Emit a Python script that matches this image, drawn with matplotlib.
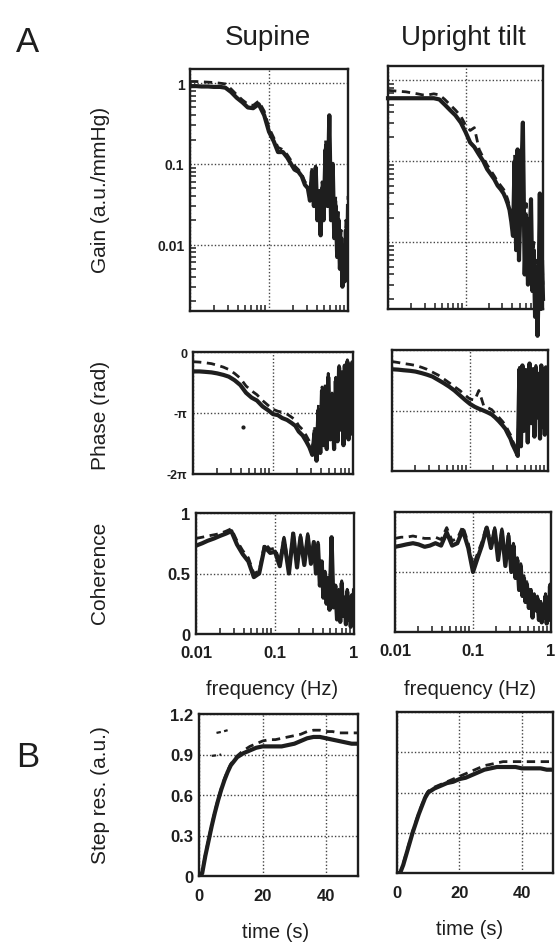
import matplotlib
matplotlib.use("Agg")
import matplotlib.pyplot as plt
import numpy as np
from matplotlib.ticker import LogLocator, NullFormatter, FixedLocator, FixedFormatter

plt.rcParams['font.family'] = ['Liberation Sans', 'DejaVu Sans']

# frequency axis shared by the spectral panels (Hz)
freq = [0.010, 0.012, 0.014, 0.017, 0.020, 0.024, 0.028, 0.033, 0.039, 0.046,
        0.054, 0.063, 0.074, 0.087, 0.10, 0.115, 0.13, 0.15, 0.17, 0.19,
        0.21, 0.235, 0.26, 0.285, 0.31, 0.33, 0.35, 0.37, 0.39, 0.41,
        0.43, 0.45, 0.47, 0.49, 0.52, 0.55, 0.58, 0.61, 0.64, 0.67,
        0.70, 0.73, 0.76, 0.79, 0.82, 0.85, 0.88, 0.91, 0.94, 0.97, 1.0]

# Gain (a.u./mmHg)
gain_sup_solid = [0.92, 0.92, 0.91, 0.91, 0.90, 0.90, 0.88, 0.78, 0.66, 0.58,
                  0.50, 0.49, 0.55, 0.40, 0.25, 0.19, 0.14, 0.14, 0.12, 0.10,
                  0.085, 0.08, 0.07, 0.055, 0.05, 0.035, 0.08, 0.03, 0.09, 0.02,
                  0.04, 0.013, 0.05, 0.02, 0.15, 0.03, 0.40, 0.02, 0.10, 0.012,
                  0.03, 0.007, 0.02, 0.005, 0.012, 0.003, 0.008, 0.0035, 0.015, 0.004, 0.03]
gain_sup_dash = [1.05, 1.05, 1.04, 1.03, 1.02, 1.00, 0.98, 0.85, 0.72, 0.62,
                 0.55, 0.53, 0.60, 0.45, 0.28, 0.21, 0.16, 0.15, 0.13, 0.11,
                 0.095, 0.085, 0.075, 0.06, 0.055, 0.04, 0.09, 0.035, 0.10, 0.025,
                 0.05, 0.015, 0.06, 0.025, 0.20, 0.035, 0.30, 0.025, 0.08, 0.015,
                 0.04, 0.008, 0.025, 0.006, 0.015, 0.004, 0.01, 0.004, 0.02, 0.005, 0.04]
gain_up_solid = [0.60, 0.60, 0.60, 0.60, 0.60, 0.60, 0.60, 0.60, 0.60, 0.58,
                 0.50, 0.43, 0.37, 0.30, 0.23, 0.17, 0.15, 0.12, 0.10, 0.08,
                 0.07, 0.06, 0.05, 0.045, 0.04, 0.035, 0.03, 0.025, 0.018, 0.012,
                 0.10, 0.008, 0.14, 0.006, 0.05, 0.30, 0.004, 0.02, 0.003, 0.01,
                 0.034, 0.0025, 0.008, 0.0012, 0.005, 0.0007, 0.003, 0.04, 0.0015, 0.006, 0.002]
gain_up_dash = [0.75, 0.74, 0.73, 0.72, 0.70, 0.68, 0.66, 0.66, 0.68, 0.66,
                0.58, 0.50, 0.43, 0.36, 0.28, 0.24, 0.26, 0.14, 0.11, 0.09,
                0.078, 0.066, 0.056, 0.05, 0.045, 0.04, 0.034, 0.028, 0.02, 0.014,
                0.12, 0.01, 0.10, 0.007, 0.06, 0.20, 0.005, 0.03, 0.004, 0.012,
                0.025, 0.003, 0.01, 0.002, 0.006, 0.001, 0.004, 0.03, 0.002, 0.008, 0.003]

# Phase (rad)
phase_sup_solid = [-1.0, -1.0, -1.02, -1.05, -1.1, -1.18, -1.27, -1.45, -1.7, -2.1,
                   -2.35, -2.5, -2.8, -3.0, -3.2, -3.25, -3.4, -3.5, -3.65, -3.8,
                   -4.1, -4.3, -4.6, -4.9, -5.3, -4.2, -5.6, -3.0, -5.2, -2.0,
                   -4.8, -1.8, -5.0, -1.3, -4.5, -2.2, -5.0, -1.5, -4.6, -0.8,
                   -4.0, -1.2, -4.8, -0.7, -3.5, -0.5, -4.5, -1.0, -3.8, -0.6, -4.2]
phase_sup_dash = [-0.5, -0.52, -0.55, -0.6, -0.68, -0.78, -0.9, -1.1, -1.35, -1.75,
                  -2.0, -2.2, -2.5, -2.75, -2.95, -3.05, -3.1, -3.2, -3.35, -3.5,
                  -3.8, -4.0, -4.3, -4.6, -5.0, -3.8, -5.3, -2.7, -4.9, -1.8,
                  -4.5, -1.6, -4.7, -1.1, -4.2, -2.0, -4.7, -1.3, -4.3, -0.7,
                  -3.7, -1.0, -4.5, -0.6, -3.2, -0.4, -4.2, -0.9, -3.5, -0.5, -3.9]
phase_up_solid = [-1.0, -1.02, -1.05, -1.08, -1.12, -1.2, -1.28, -1.38, -1.55, -1.72,
                  -1.9, -2.1, -2.35, -2.6, -2.8, -2.95, -3.05, -3.15, -3.25, -3.35,
                  -3.5, -3.7, -3.9, -4.1, -4.4, -4.6, -4.9, -5.1, -5.3, -5.5,
                  -1.0, -5.0, -0.8, -4.2, -1.2, -4.8, -0.7, -3.8, -1.0, -4.5,
                  -0.9, -3.5, -1.3, -4.6, -0.8, -4.0, -1.1, -4.4, -0.9, -3.6, -1.2]
phase_up_dash = [-0.6, -0.65, -0.7, -0.75, -0.8, -0.9, -1.0, -1.15, -1.3, -1.5,
                 -1.7, -1.9, -2.1, -2.35, -2.55, -2.6, -2.1, -2.9, -3.0, -3.1,
                 -3.3, -3.5, -3.7, -3.9, -4.2, -4.4, -4.7, -4.9, -5.1, -5.3,
                 -0.9, -4.7, -0.7, -4.0, -1.0, -4.5, -0.6, -3.6, -0.9, -4.2,
                 -0.8, -3.3, -1.2, -4.3, -0.7, -3.8, -1.0, -4.1, -0.8, -3.4, -1.1]

# Coherence
coh_sup_solid = [0.73, 0.75, 0.77, 0.79, 0.81, 0.83, 0.85, 0.74, 0.66, 0.60,
                 0.47, 0.50, 0.72, 0.67, 0.68, 0.56, 0.78, 0.50, 0.83, 0.55,
                 0.80, 0.57, 0.81, 0.58, 0.76, 0.50, 0.74, 0.40, 0.60, 0.30,
                 0.50, 0.25, 0.45, 0.20, 0.80, 0.22, 0.40, 0.12, 0.35, 0.10,
                 0.42, 0.15, 0.30, 0.08, 0.35, 0.12, 0.28, 0.06, 0.32, 0.10, 0.36]
coh_sup_dash = [0.79, 0.80, 0.81, 0.82, 0.83, 0.85, 0.87, 0.77, 0.69, 0.63,
                0.50, 0.52, 0.75, 0.70, 0.71, 0.60, 0.80, 0.53, 0.85, 0.58,
                0.82, 0.60, 0.83, 0.60, 0.78, 0.52, 0.76, 0.42, 0.62, 0.32,
                0.52, 0.27, 0.47, 0.22, 0.75, 0.24, 0.42, 0.14, 0.37, 0.12,
                0.44, 0.17, 0.32, 0.10, 0.37, 0.14, 0.30, 0.08, 0.34, 0.12, 0.38]
coh_up_solid = [0.71, 0.72, 0.73, 0.74, 0.73, 0.71, 0.72, 0.74, 0.72, 0.83,
                0.72, 0.74, 0.85, 0.70, 0.50, 0.62, 0.72, 0.87, 0.70, 0.85,
                0.60, 0.84, 0.55, 0.80, 0.50, 0.72, 0.45, 0.60, 0.35, 0.55,
                0.30, 0.45, 0.25, 0.40, 0.20, 0.35, 0.12, 0.30, 0.18, 0.28,
                0.10, 0.25, 0.08, 0.22, 0.12, 0.30, 0.07, 0.25, 0.10, 0.38, 0.15]
coh_up_dash = [0.78, 0.79, 0.79, 0.80, 0.79, 0.78, 0.78, 0.79, 0.77, 0.87,
               0.76, 0.78, 0.88, 0.74, 0.55, 0.66, 0.75, 0.89, 0.73, 0.87,
               0.63, 0.86, 0.58, 0.82, 0.52, 0.74, 0.47, 0.62, 0.37, 0.57,
               0.32, 0.47, 0.27, 0.42, 0.22, 0.37, 0.14, 0.32, 0.20, 0.30,
               0.12, 0.27, 0.10, 0.24, 0.14, 0.32, 0.09, 0.27, 0.12, 0.40, 0.17]

# Step response
time_s = [0, 1, 2, 3, 4, 5, 6, 7, 8, 9, 10, 12, 14, 16, 18, 20, 22, 24, 26, 28,
          30, 32, 34, 36, 38, 40, 42, 44, 46, 48, 50]
step_sup_solid = [0, 0.02, 0.15, 0.26, 0.37, 0.47, 0.56, 0.64, 0.71, 0.77, 0.82,
                  0.88, 0.91, 0.93, 0.95, 0.96, 0.96, 0.96, 0.96, 0.97, 0.98,
                  1.0, 1.02, 1.03, 1.03, 1.02, 1.01, 1.0, 0.99, 0.98, 0.98]
step_sup_dash = [0, 0.03, 0.16, 0.27, 0.38, 0.48, 0.57, 0.65, 0.72, 0.78, 0.83,
                 0.89, 0.93, 0.96, 0.98, 1.0, 1.01, 1.01, 1.02, 1.03, 1.04,
                 1.05, 1.07, 1.08, 1.08, 1.07, 1.07, 1.06, 1.06, 1.06, 1.06]
step_up_solid = [0, 0.0, 0.06, 0.14, 0.22, 0.30, 0.37, 0.44, 0.50, 0.56, 0.60,
                 0.63, 0.65, 0.67, 0.68, 0.70, 0.71, 0.73, 0.75, 0.77, 0.78,
                 0.79, 0.79, 0.79, 0.79, 0.78, 0.78, 0.78, 0.78, 0.77, 0.77]
step_up_dash = [0, 0.0, 0.07, 0.15, 0.23, 0.31, 0.38, 0.45, 0.51, 0.57, 0.61,
                0.64, 0.66, 0.68, 0.70, 0.72, 0.74, 0.76, 0.78, 0.80, 0.81,
                0.82, 0.83, 0.83, 0.83, 0.83, 0.83, 0.83, 0.83, 0.83, 0.83]
step_ticks_y = ['0', '0.3', '0.6', '0.9', '1.2']

# stray specks in the supine panels of the original
speck_phase = ([0.042], [-3.86])
speck_step_t = [[5.5, 7.5, 9.0], [4.0, 6.0, 7.0]]
speck_step_y = [[1.06, 1.07, 1.08], [0.89, 0.895, 0.90]]

INK = '#1e1e1e'
W, H = 556, 945


def px_axes(fig, x0, y0, x1, y1):
    return fig.add_axes([x0 / W, 1 - y1 / H, (x1 - x0) / W, (y1 - y0) / H])


def style(ax):
    for s in ax.spines.values():
        s.set_linewidth(1.7)
        s.set_color(INK)
    ax.tick_params(which='major', length=0, labelsize=12, colors=INK, pad=4)
    ax.tick_params(which='minor', direction='in', length=4, width=1.1, color=INK,
                   left=False, right=False, top=False)
    for lab in ax.get_xticklabels() + ax.get_yticklabels():
        lab.set_fontweight('bold')
    ax.grid(True, which='major', linestyle=(0, (1, 1.5)), color='#444444', linewidth=1.0)
    ax.set_axisbelow(True)


def freq_axis(ax, show_labels):
    ax.set_xscale('log')
    ax.set_xlim(0.01, 1)
    ax.xaxis.set_major_locator(FixedLocator([0.01, 0.1, 1]))
    ax.xaxis.set_minor_locator(LogLocator(base=10, subs=np.arange(2, 10), numticks=20))
    ax.xaxis.set_minor_formatter(NullFormatter())
    if show_labels:
        ax.xaxis.set_major_formatter(FixedFormatter(['0.01', '0.1', '1']))
    else:
        ax.xaxis.set_major_formatter(NullFormatter())


def draw(ax, x, solid, dash, clip=True):
    ax.plot(x, solid, color=INK, linewidth=3.0, solid_joinstyle='round', clip_on=clip)
    ax.plot(x, dash, color=INK, linewidth=2.0, linestyle=(0, (3, 2)), clip_on=clip)


fig = plt.figure(figsize=(W / 100, H / 100), dpi=100)

# ---- gain ----
gain_boxes = [(190, 70, 348, 312), (388, 67, 543, 310)]
gain_data = [(gain_sup_solid, gain_sup_dash), (gain_up_solid, gain_up_dash)]
for i, (box, (gs, gd)) in enumerate(zip(gain_boxes, gain_data)):
    ax = px_axes(fig, *box)
    draw(ax, freq, gs, gd, clip=(i == 0))
    freq_axis(ax, False)
    ax.set_yscale('log')
    ax.set_ylim(0.0015, 1.5)
    ax.yaxis.set_major_locator(FixedLocator([0.01, 0.1, 1]))
    ax.yaxis.set_minor_locator(LogLocator(base=10, subs=np.arange(2, 10), numticks=20))
    ax.yaxis.set_minor_formatter(NullFormatter())
    if i == 0:
        ax.yaxis.set_major_formatter(FixedFormatter(['0.01', '0.1', '1']))
    else:
        ax.yaxis.set_major_formatter(NullFormatter())
    style(ax)
    ax.tick_params(axis='y', which='minor', left=True, direction='in', length=4)
    ax.tick_params(axis='y', labelsize=10)

# ---- phase ----
phase_boxes = [(193, 353, 353, 475), (392, 351, 548, 472)]
phase_data = [(phase_sup_solid, phase_sup_dash), (phase_up_solid, phase_up_dash)]
for i, (box, (ps, pd)) in enumerate(zip(phase_boxes, phase_data)):
    ax = px_axes(fig, *box)
    draw(ax, freq, ps, pd)
    if i == 0:
        ax.plot(*speck_phase, 'o', color=INK, markersize=2)
    freq_axis(ax, False)
    ax.set_ylim(-2 * np.pi, 0)
    ax.set_yticks([-2 * np.pi, -np.pi, 0])
    ax.set_yticklabels(['-2π', '-π', '0'] if i == 0 else [])
    style(ax)
    ax.tick_params(axis='y', labelsize=9)

# ---- coherence ----
coh_boxes = [(196, 514, 354, 635), (395, 513, 551, 633)]
coh_data = [(coh_sup_solid, coh_sup_dash), (coh_up_solid, coh_up_dash)]
for i, (box, (cs, cd)) in enumerate(zip(coh_boxes, coh_data)):
    ax = px_axes(fig, *box)
    draw(ax, freq, cs, cd)
    freq_axis(ax, True)
    ax.set_ylim(0, 1)
    ax.set_yticks([0, 0.5, 1])
    ax.set_yticklabels(['0', '0.5', '1'] if i == 0 else [])
    style(ax)
    ax.tick_params(axis='x', pad=8)

# ---- step response ----
step_boxes = [(199, 715, 358, 877), (397, 713, 553, 874)]
step_data = [(step_sup_solid, step_sup_dash), (step_up_solid, step_up_dash)]
for i, (box, (ss, sd)) in enumerate(zip(step_boxes, step_data)):
    ax = px_axes(fig, *box)
    draw(ax, time_s, ss, sd)
    if i == 0:
        for st, sy in zip(speck_step_t, speck_step_y):
            ax.plot(st, sy, color=INK, linewidth=1.6, linestyle=(0, (2, 1.5)))
    ax.set_xlim(0, 50)
    ax.set_ylim(0, 1.2)
    ax.set_xticks([0, 20, 40])
    ax.set_yticks([0, 0.3, 0.6, 0.9, 1.2])
    ax.set_yticklabels(step_ticks_y if i == 0 else [])
    style(ax)
    ax.tick_params(axis='x', pad=9)

# ---- text ----
fig.text(28 / W, 1 - 42 / H, 'A', fontsize=25, color=INK, ha='center', va='center')
fig.text(28 / W, 1 - 758 / H, 'B', fontsize=25, color=INK, ha='center', va='center')
fig.text(268 / W, 1 - 38 / H, 'Supine', fontsize=20, color=INK, ha='center', va='center')
fig.text(463 / W, 1 - 38 / H, 'Upright tilt', fontsize=20, color=INK, ha='center', va='center')

ylabels = [('Gain (a.u./mmHg)', 190), ('Phase (rad)', 415),
           ('Coherence', 573), ('Step res. (a.u.)', 795)]
for txt, yc in ylabels:
    fig.text(100 / W, 1 - yc / H, txt, fontsize=15, color=INK, rotation=90,
             ha='center', va='center')

fig.text(272 / W, 1 - 690 / H, 'frequency (Hz)', fontsize=14.5, color=INK, ha='center', va='center')
fig.text(470 / W, 1 - 690 / H, 'frequency (Hz)', fontsize=14.5, color=INK, ha='center', va='center')
fig.text(276 / W, 1 - 933 / H, 'time (s)', fontsize=14.5, color=INK, ha='center', va='center')
fig.text(470 / W, 1 - 930 / H, 'time (s)', fontsize=14.5, color=INK, ha='center', va='center')

fig.savefig('out.png', dpi=100, facecolor='white')
